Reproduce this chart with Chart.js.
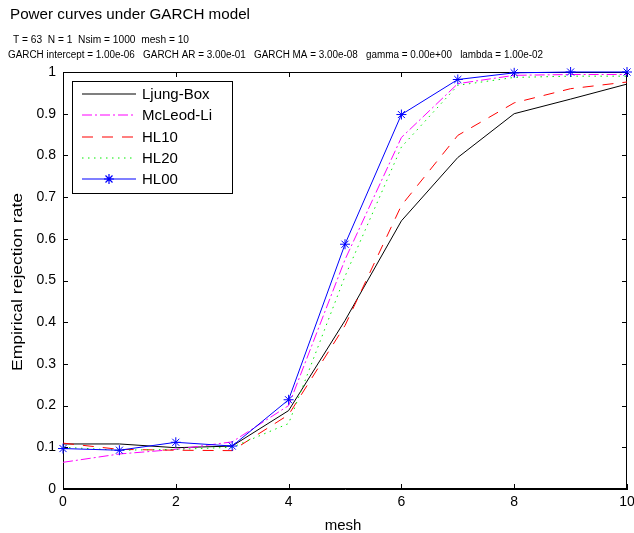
<!DOCTYPE html>
<html>
<head>
<meta charset="utf-8">
<script src="https://cdn.jsdelivr.net/npm/chart.js@4/dist/chart.umd.min.js"></script>
<style>
  body { margin: 0; background: #fff; }
</style>
</head>
<body>
<canvas id="g_power" width="634" height="533"></canvas>
<script>
// les données
const mesh = [0, 1, 2, 3, 4, 5, 6, 7, 8, 9, 10];
const ljungBox = [0.108, 0.108, 0.099, 0.103, 0.188, 0.404, 0.643, 0.795, 0.900, 0.935, 0.971];
const mcLeodLi = [0.064, 0.084, 0.095, 0.113, 0.200, 0.550, 0.843, 0.972, 0.992, 0.994, 0.994];
const hl10 = [0.110, 0.095, 0.093, 0.092, 0.178, 0.392, 0.680, 0.848, 0.926, 0.960, 0.976];
const hl20 = [0.100, 0.093, 0.095, 0.100, 0.157, 0.510, 0.820, 0.968, 0.987, 0.990, 0.990];
const hl00 = [0.097, 0.093, 0.112, 0.103, 0.214, 0.587, 0.898, 0.982, 0.998, 1.000, 1.000];
const seriesNames = ['Ljung-Box', 'McLeod-Li', 'HL10', 'HL20', 'HL00'];
const xTickLabels = ['0', '2', '4', '6', '8', '10'];
const yTickLabels = ['0', '0.1', '0.2', '0.3', '0.4', '0.5', '0.6', '0.7', '0.8', '0.9', '1'];

const titleText = 'Power curves under GARCH model';
const infoLine1 = 'T = 63  N = 1  Nsim = 1000  mesh = 10';
const infoLine2 = 'GARCH intercept = 1.00e-06   GARCH AR = 3.00e-01   GARCH MA = 3.00e-08   gamma = 0.00e+00   lambda = 1.00e-02';

const FONT = '"Liberation Sans", Arial, sans-serif';

function pts(values) {
    return mesh.map((m, i) => ({ x: m, y: values[i] }));
}

// texte étiré pour coller à la largeur de la figure
function fitText(ctx, text, x, y, size, width) {
    ctx.font = size + 'px ' + FONT;
    const w = ctx.measureText(text).width;
    ctx.save();
    ctx.translate(x, y);
    ctx.scale(width / w, 1);
    ctx.fillText(text, 0, 0);
    ctx.restore();
}

const styles = [
    { color: '#000000', dash: [] },
    { color: '#ff00ff', dash: [10, 3, 2, 3] },
    { color: '#ff0000', dash: [11, 9] },
    { color: '#00ee00', dash: [1.5, 4.5] },
    { color: '#0000ff', dash: [] }
];

function drawStar(ctx, cx, cy, r) {
    const d = r * 0.7;
    ctx.beginPath();
    ctx.moveTo(cx - r, cy); ctx.lineTo(cx + r, cy);
    ctx.moveTo(cx, cy - r); ctx.lineTo(cx, cy + r);
    ctx.moveTo(cx - d, cy - d); ctx.lineTo(cx + d, cy + d);
    ctx.moveTo(cx - d, cy + d); ctx.lineTo(cx + d, cy - d);
    ctx.stroke();
}

const decorPlugin = {
    id: 'decor',
    beforeDatasetsDraw(chart) {
        // cadre complet + graduations vers l'intérieur
        const ctx = chart.ctx;
        const a = chart.chartArea;
        const xs = chart.scales.x;
        const ys = chart.scales.y;
        ctx.save();
        ctx.strokeStyle = '#000000';
        ctx.lineWidth = 1;
        ctx.setLineDash([]);
        ctx.strokeRect(a.left + 0.5, a.top + 0.5, a.right - a.left - 1, a.bottom - a.top - 1);
        ctx.beginPath();
        xs.ticks.forEach(t => {
            const px = Math.round(xs.getPixelForValue(t.value)) + 0.5;
            ctx.moveTo(px, a.bottom); ctx.lineTo(px, a.bottom - 5);
            ctx.moveTo(px, a.top); ctx.lineTo(px, a.top + 5);
        });
        ys.ticks.forEach(t => {
            const py = Math.round(ys.getPixelForValue(t.value)) + 0.5;
            ctx.moveTo(a.left, py); ctx.lineTo(a.left + 5, py);
            ctx.moveTo(a.right, py); ctx.lineTo(a.right - 5, py);
        });
        ctx.stroke();
        ctx.restore();
    },
    afterDraw(chart) {
        const ctx = chart.ctx;
        ctx.save();
        ctx.strokeStyle = '#000000';
        ctx.lineWidth = 1;
        ctx.setLineDash([]);
        // légende
        const lx = 72, ly = 81, lw = 160, lh = 112;
        ctx.fillStyle = '#ffffff';
        ctx.fillRect(lx, ly, lw, lh);
        ctx.strokeRect(lx + 0.5, ly + 0.5, lw, lh);
        seriesNames.forEach((name, i) => {
            const y = Math.round(94 + i * 21.3);
            ctx.lineWidth = 1.2;
            ctx.strokeStyle = styles[i].color;
            ctx.setLineDash(styles[i].dash);
            ctx.beginPath();
            ctx.moveTo(82, y);
            ctx.lineTo(136, y);
            ctx.stroke();
            ctx.setLineDash([]);
            if (i === 4) {
                drawStar(ctx, 109, y, 5);
            }
            ctx.fillStyle = '#000000';
            ctx.textAlign = 'left';
            ctx.textBaseline = 'middle';
            ctx.font = '15px ' + FONT;
            ctx.fillText(name, 142, y + 1);
        });

        // titres
        ctx.fillStyle = '#000000';
        ctx.textBaseline = 'alphabetic';
        ctx.textAlign = 'left';
        fitText(ctx, titleText, 10, 19, 15, 240);
        fitText(ctx, infoLine1, 13, 43, 10, 176);
        fitText(ctx, infoLine2, 8, 58, 10, 535);
        // titres des axes
        ctx.textAlign = 'center';
        ctx.font = '15px ' + FONT;
        ctx.fillText('mesh', 343, 530);
        ctx.save();
        ctx.translate(22, 282);
        ctx.rotate(-Math.PI / 2);
        fitText(ctx, 'Empirical rejection rate', 0, 0, 15, 178);
        ctx.restore();
        ctx.restore();
    }
};

function dessine() {
    const context = document.getElementById('g_power').getContext('2d');
    const datasets = [ljungBox, mcLeodLi, hl10, hl20, hl00].map((vals, i) => ({
        label: seriesNames[i],
        data: pts(vals),
        borderColor: styles[i].color,
        backgroundColor: styles[i].color,
        borderDash: styles[i].dash,
        borderWidth: 1,
        fill: false,
        tension: 0,
        clip: false,
        pointRadius: i === 4 ? 5 : 0,
        pointStyle: 'star',
        pointBorderWidth: 1,
        pointBorderColor: styles[i].color,
        order: 5 - i
    }));
    const config = {
        type: 'line',
        data: { datasets: datasets },
        options: {
            responsive: false,
            animation: false,
            layout: { padding: { top: 72, right: 7, left: 0, bottom: 0 } },
            plugins: {
                legend: { display: false },
                title: { display: false },
                tooltip: { enabled: false }
            },
            scales: {
                x: {
                    type: 'linear',
                    min: 0,
                    max: 10,
                    grid: { display: false, drawTicks: false, tickLength: 0 },
                    border: { display: true, color: '#000' },
                    ticks: {
                        stepSize: 2,
                        padding: 5,
                        color: '#000',
                        maxRotation: 0,
                        font: { family: FONT, size: 14 },
                        callback: (v, i) => xTickLabels[i]
                    },
                    afterFit: s => { s.height = 44; s.paddingRight = 0; s.paddingLeft = 0; }
                },
                y: {
                    type: 'linear',
                    min: 0,
                    max: 1,
                    grid: { display: false, drawTicks: false, tickLength: 0 },
                    border: { display: true, color: '#000' },
                    ticks: {
                        stepSize: 0.1,
                        padding: 7,
                        color: '#000',
                        font: { family: FONT, size: 14 },
                        callback: (v, i) => yTickLabels[i]
                    },
                    afterFit: s => { s.width = 63; s.paddingTop = 0; s.paddingBottom = 0; }
                }
            }
        },
        plugins: [decorPlugin]
    };
    new Chart(context, config);
}

window.addEventListener('load', () => {
    dessine();
});
</script>
</body>
</html>
